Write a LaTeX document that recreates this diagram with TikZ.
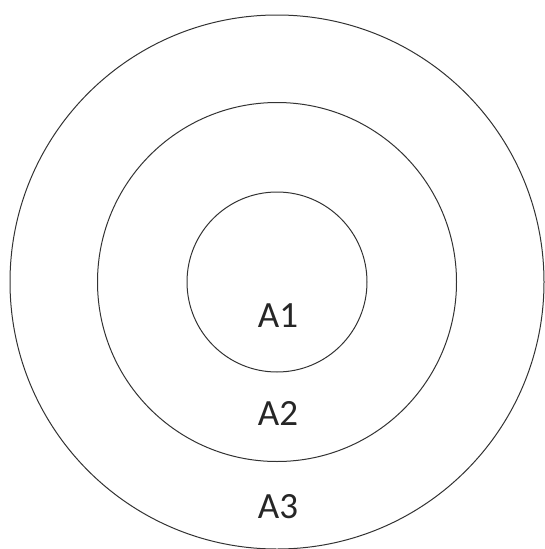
\documentclass[tikz,border=0pt]{standalone}
\usepackage{fontspec}
\setmainfont{Carlito}
\usepackage{tikz}
\tikzset{
  ring/.style={circle, draw=black!80, line width=1pt, inner sep=0pt},
  zone/.style={anchor=base, font=\fontsize{37}{40}\selectfont, text=black!85},
}

\begin{document}
\begin{tikzpicture}[x=1pt,y=-1pt]
  \useasboundingbox (0,0) rectangle (545,549);
  \coordinate (c) at (277,282);
  \node[ring, minimum size=534pt] (outer) at (c) {};
  \node[ring, minimum size=359pt] (middle) at (c) {};
  \node[ring, minimum size=180pt] (inner) at (c) {};
  \node[zone] (a1) at (278,327) {A1};
  \node[zone] (a2) at (278,425) {A2};
  \node[zone] (a3) at (278,518) {A3};
\end{tikzpicture}
\end{document}
